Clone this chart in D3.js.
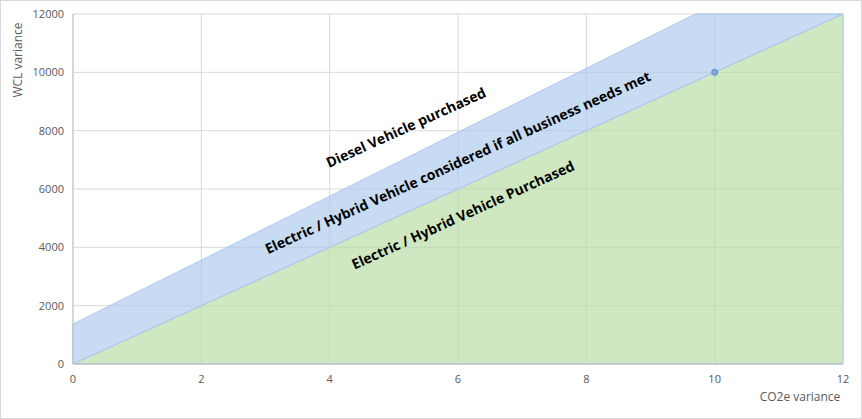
<!DOCTYPE html>
<html><head><meta charset="utf-8">
<script src="https://cdn.jsdelivr.net/npm/d3@7"></script>
<style>body{margin:0;background:#fff}text{font-family:"Open Sans",sans-serif}</style>
</head><body><div id="stage"></div>
<script>
const co2 = [0, 9.7, 12];
const lowerWcl = [0, 9700, 12000];
const upperWcl = [1370, 12000, 12000];
const marker = [{x: 10, y: 10000}];
const xTicks = [0, 2, 4, 6, 8, 10, 12];
const yTicks = [0, 2000, 4000, 6000, 8000, 10000, 12000];
const labels = [
    {text: 'Diesel Vehicle purchased', x: 5.22, y: 7950},
    {text: 'Electric / Hybrid Vehicle considered if all business needs met', x: 6.03, y: 6750},
    {text: 'Electric / Hybrid Vehicle Purchased', x: 6.11, y: 4950}
];

const width = 862, height = 419;
const svg = d3.select('#stage').append('svg').attr('width', width).attr('height', height);
svg.append('rect').attr('x', 0.5).attr('y', 0.5).attr('width', width - 1).attr('height', height - 1)
    .attr('fill', '#fff').attr('stroke', '#d9d9d9');

const x = d3.scaleLinear().domain([0, 12]).range([73, 843]);
const y = d3.scaleLinear().domain([0, 12000]).range([364, 14]);

// gridlines
svg.append('g').selectAll('line').data(xTicks).join('line')
    .attr('x1', d => x(d)).attr('x2', d => x(d)).attr('y1', y(0)).attr('y2', y(12000))
    .attr('stroke', '#d9d9d9');
svg.append('g').selectAll('line').data(yTicks).join('line')
    .attr('x1', x(0)).attr('x2', x(12)).attr('y1', d => y(d)).attr('y2', d => y(d))
    .attr('stroke', '#d9d9d9');

const pts = co2.map((c, i) => ({c, lo: lowerWcl[i], hi: upperWcl[i]}));
svg.append('path').datum(pts)
    .attr('d', d3.area().x(d => x(d.c)).y0(d => y(d.lo)).y1(d => y(d.hi)))
    .attr('fill', '#a9c8eb').attr('fill-opacity', 0.65).attr('stroke', '#a9c8eb');
svg.append('path').datum(pts)
    .attr('d', d3.area().x(d => x(d.c)).y0(y(0)).y1(d => y(d.lo)))
    .attr('fill', '#b6dba0').attr('fill-opacity', 0.65).attr('stroke', '#a9c8eb');

svg.selectAll('circle').data(marker).join('circle')
    .attr('cx', d => x(d.x)).attr('cy', d => y(d.y)).attr('r', 3)
    .attr('fill', '#7fa6d8').attr('stroke', '#5b8bd0');

// axes
svg.append('line').attr('x1', x(0)).attr('x2', x(0)).attr('y1', y(0)).attr('y2', y(12000)).attr('stroke', '#bfbfbf');
svg.append('line').attr('x1', x(0)).attr('x2', x(12)).attr('y1', y(0)).attr('y2', y(0)).attr('stroke', '#bfbfbf');
svg.append('g').selectAll('text').data(xTicks).join('text')
    .attr('x', d => x(d)).attr('y', 383).attr('text-anchor', 'middle')
    .attr('font-size', 11).attr('fill', '#595959').text(d => d);
svg.append('g').selectAll('text').data(yTicks).join('text')
    .attr('x', 64).attr('y', d => y(d) + 4).attr('text-anchor', 'end')
    .attr('font-size', 11).attr('fill', '#595959').text(d => d);

svg.append('text').attr('transform', 'translate(22,60) rotate(-90)').attr('text-anchor', 'middle')
    .attr('font-size', 12).attr('fill', '#595959').text('WCL variance');
svg.append('text').attr('x', 800).attr('y', 401).attr('text-anchor', 'middle')
    .attr('font-size', 12).attr('fill', '#595959').text('CO2e variance');

svg.append('g').selectAll('text').data(labels).join('text')
    .attr('transform', d => `translate(${x(d.x)},${y(d.y)}) rotate(-24.4)`)
    .attr('text-anchor', 'middle').attr('font-size', 14).attr('font-weight', 'bold')
    .attr('fill', '#000').text(d => d.text);
</script></body></html>
